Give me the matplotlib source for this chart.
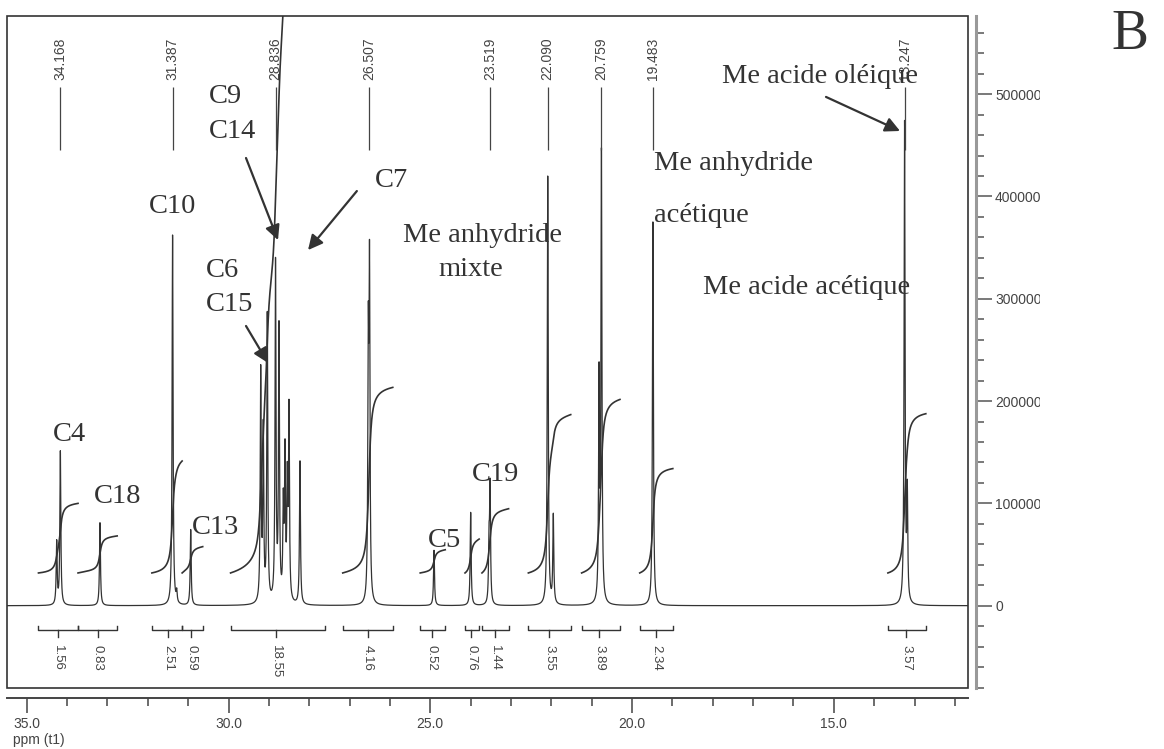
import numpy as np
import matplotlib
matplotlib.use('Agg')
import matplotlib.pyplot as plt
from matplotlib.ticker import MultipleLocator, FormatStrFormatter
from matplotlib.patches import Rectangle
from matplotlib.transforms import Bbox

INK = '#333333'
SERIF = 'Liberation Serif'
plt.rcParams['font.family'] = 'Liberation Sans'

# peaks: shift (ppm) and height
peak_ppm = [34.259, 34.168, 33.186, 31.387, 31.285, 30.938,
            29.203, 29.139, 29.040, 28.836, 28.750, 28.643, 28.601, 28.544, 28.502, 28.230,
            26.537, 26.507, 24.908, 24.000, 23.545, 23.519, 22.090, 21.952,
            20.818, 20.759, 19.483, 13.247, 13.180]
peak_height = [61000, 150000, 81000, 362000, 10500, 74000,
               225000, 165000, 280000, 330000, 265000, 90000, 140000, 110000, 185000, 140000,
               240000, 315000, 54000, 91000, 55000, 112000, 419000, 86000,
               215000, 436000, 375000, 470000, 104000]

# shifts printed above the spectrum
shift_labels = ['34.168', '31.387', '28.836', '26.507', '23.519',
                '22.090', '20.759', '19.483', '13.247']

# integration regions
int_start = [34.71, 33.73, 31.90, 31.15, 29.95, 27.17, 25.25, 24.14, 23.72, 22.57, 21.25, 19.81, 13.66]
int_end = [33.73, 32.76, 31.15, 30.64, 27.61, 25.93, 24.63, 23.79, 23.06, 21.52, 20.30, 18.99, 12.72]
int_mid = [34.22, 33.24, 31.49, 30.92, 28.82, 26.55, 24.96, 23.99, 23.39, 22.05, 20.82, 19.41, 13.21]
int_value = [1.56, 0.83, 2.51, 0.59, 18.55, 4.16, 0.52, 0.76, 1.44, 3.55, 3.89, 2.34, 3.57]

# assignments written on the spectrum (text, ppm, intensity)
notes = [('C4', 34.35, 161000), ('C18', 33.33, 100300), ('C13', 30.91, 70100),
         ('C10', 31.97, 383800), ('C9', 30.48, 491400), ('C14', 30.48, 457200),
         ('C6', 30.56, 321200), ('C15', 30.56, 288000), ('C7', 26.37, 409200),
         ('Me anhydride', 25.67, 355500), ('mixte', 24.81, 322300),
         ('Me anhydride', 19.456, 425800), ('acétique', 19.456, 375000),
         ('Me acide acétique', 18.242, 304700), ('Me acide oléique', 17.771, 510900),
         ('C5', 25.057, 57400), ('C19', 23.967, 121900)]

# arrows (tail, tip)
arrows = [((29.567, 437600), (28.774, 357400)),
          ((26.82, 405300), (28.03, 347600)),
          ((29.567, 273400), (29.022, 237300)),
          ((15.194, 497300), (13.36, 464000))]


def lorentz(x, gamma):
    y = np.zeros_like(x)
    for c, h in zip(peak_ppm, peak_height):
        y += h / (1 + ((x - c) / gamma) ** 2)
    return y


fig = plt.figure(figsize=(11.64, 7.49), dpi=100)
ax = fig.add_axes([7 / 1164, 61 / 749, 961 / 1164, 672 / 749])
ax.set_xlim(35.49, 11.675)
ax.set_ylim(-80450, 576400)

ppm = np.sort(np.concatenate([np.linspace(35.49, 11.675, 12000), peak_ppm]))[::-1]
ax.plot(ppm, lorentz(ppm, 0.014), color=INK, lw=0.9)

# integral curves
for s, e, v in zip(int_start, int_end, int_value):
    x = np.linspace(s, e, 500)
    c = np.cumsum(lorentz(x, 0.045))
    c = (c - c[0]) / (c[-1] - c[0])
    ax.plot(x, 32000 + c * v * 43600, color=INK, lw=1.2)

# integration brackets
for s, e, m, v in zip(int_start, int_end, int_mid, int_value):
    ax.plot([s, s, e, e], [-19600, -24100, -24100, -19600], color=INK, lw=1.0)
    ax.plot([m, m], [-24100, -30300], color=INK, lw=1.0)
    ax.text(m, -38400, '%.2f' % v, rotation=-90, ha='center', va='top',
            fontsize=9.5, color='#444444')

# shift labels at the top
shifts = [float(s) for s in shift_labels]
ax.vlines(shifts, 445400, 507000, color='#444444', lw=0.9)
for s, t in zip(shifts, shift_labels):
    ax.text(s, 513900, t, rotation=90, ha='center', va='bottom',
            fontsize=10, color='#444444')

for t, x, y in notes:
    ax.text(x, y, t, family=SERIF, fontsize=20.5, color=INK, ha='left', va='baseline')

for tail, tip in arrows:
    ax.annotate('', xy=tip, xytext=tail,
                arrowprops=dict(arrowstyle='-|>', color=INK, lw=1.6,
                                mutation_scale=22, shrinkA=0, shrinkB=0))

# frame and rulers
for side in ['top', 'left']:
    ax.spines[side].set_visible(False)
ax.spines['bottom'].set_position(('outward', 7))
ax.spines['bottom'].set_color('#444444')
ax.spines['bottom'].set_linewidth(1.4)
ax.spines['right'].set_position(('outward', 6))
ax.spines['right'].set_color('#999999')
ax.spines['right'].set_linewidth(2.2)
ax.add_patch(Rectangle((0, 0), 1, 1, transform=ax.transAxes, fill=False,
                       ec=INK, lw=1.2, clip_on=False))

ax.yaxis.tick_right()
ax.yaxis.set_major_locator(MultipleLocator(100000))
ax.yaxis.set_minor_locator(MultipleLocator(20000))
ax.yaxis.set_major_formatter(FormatStrFormatter('%d'))
ax.xaxis.set_major_locator(MultipleLocator(5))
ax.xaxis.set_minor_locator(MultipleLocator(1))
ax.xaxis.set_major_formatter(FormatStrFormatter('%.1f'))
ax.tick_params(axis='y', which='major', length=11.5, width=1.1, color='#555555',
               labelsize=10, labelcolor='#444444', pad=2)
ax.tick_params(axis='y', which='minor', length=5.8, width=1.1, color='#555555')
ax.tick_params(axis='x', which='major', length=10.8, width=1.1, color='#444444',
               labelsize=10, labelcolor='#444444', pad=3)
ax.tick_params(axis='x', which='minor', length=5.8, width=1.1, color='#444444')

fig.text(12.7 / 1164, 1 - 740 / 749, 'ppm (t1)', fontsize=10, color='#444444',
         ha='left', va='center')
fig.text(1130 / 1164, 1 - 35 / 749, 'B', family=SERIF, fontsize=40, color=INK,
         ha='center', va='center')

fig.canvas.draw()
clip = Bbox([[0, 0], [1040, 749]])
for t in ax.yaxis.get_major_ticks():
    t.label2.set_clip_box(clip)
    t.label2.set_clip_on(True)

fig.savefig('out.png', dpi=100)
